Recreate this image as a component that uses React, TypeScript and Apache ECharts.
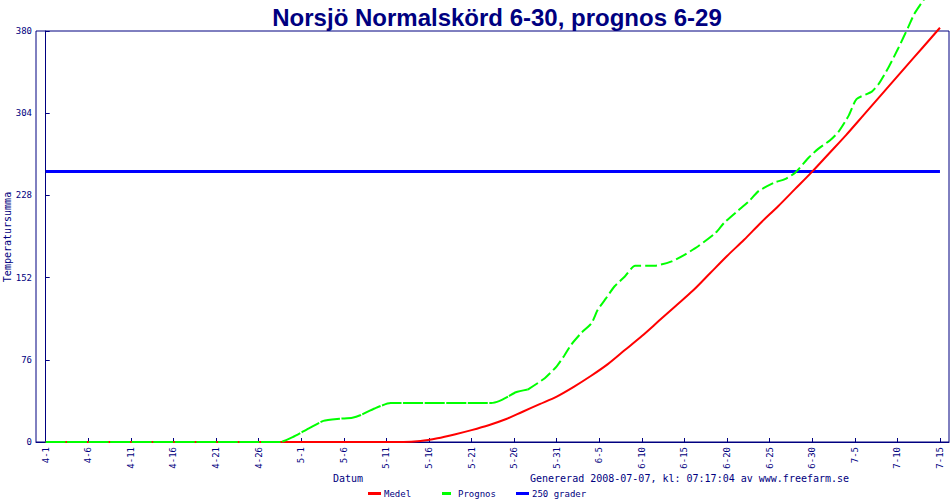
import React, { useEffect, useRef } from "react";
import * as echarts from "echarts";

const NAVY = "#000080";
const MONO = "'DejaVu Sans Mono', monospace";

// x values are day numbers counted from 4-1 (day 0)
const tickDays = [0, 5, 10, 15, 20, 25, 30, 35, 40, 45, 50, 55, 60, 65, 70, 75, 80, 85, 90, 95, 100, 105];
const tickLabels = [
  "4-1", "4-6", "4-11", "4-16", "4-21", "4-26", "5-1", "5-6", "5-11", "5-16", "5-21",
  "5-26", "5-31", "6-5", "6-10", "6-15", "6-20", "6-25", "6-30", "7-5", "7-10", "7-15",
];

const medelDays = [0, 42, 44, 46, 48, 50, 52, 54, 56, 58, 60, 62, 64, 66, 68, 70, 72, 74, 76, 78, 80, 82, 84, 86, 88, 90, 92, 94, 96, 98, 100, 102, 104, 105];
const medelValues = [0, 0, 1, 3.5, 7, 11, 15.5, 21, 28, 35, 42, 51, 61, 72, 85, 98, 112, 126, 140, 156, 172, 187, 203, 218, 234, 250, 267, 284, 302, 320, 338, 356, 374, 383];

const prognosEarlyDays = [0, 27.5, 29, 31, 32.6, 34.5, 36, 37, 38.6, 40.5, 52.3, 53.3, 54.3, 55.2, 56.6];
const prognosEarlyValues = [0, 0, 4.5, 13, 19.5, 21.5, 22.5, 25, 31, 36, 36, 38, 42, 46, 48.5];

const prognosLateDays = [56.6, 58.6, 60, 60.9, 61.7, 62.9, 64.1, 64.8, 65.8, 66.8, 68, 69.2, 71.5, 73.5, 75, 76.6, 78.6, 79.7, 81.3, 82.5, 83.7, 85.6, 86.8, 88, 89.6, 90.7, 92.1, 93.1, 94.3, 95.2, 97, 97.8, 99, 100.1, 101.3, 102, 103.1, 104];
const prognosLateValues = [48.5, 59, 70, 80, 90, 101, 110, 122, 133, 144, 153, 163, 163, 167, 173, 181, 193, 203, 214, 222, 232, 240, 243, 249, 263, 271, 279, 287, 302, 317, 324, 331, 347, 364, 384, 396, 409, 420];

const gradDays = [0, 105];
const gradValues = [250, 250];

const zip = (xs: number[], ys: number[]) => xs.map((x, i) => [x, ys[i]]);

export default function App() {
  const ref = useRef<HTMLDivElement>(null);

  useEffect(() => {
    document.body.style.margin = "0";
    if (!ref.current) return;
    const chart = echarts.init(ref.current, null, { renderer: "svg" });

    const legendBase = {
      orient: "horizontal",
      top: 489,
      itemHeight: 3,
      itemGap: 0,
      icon: "rect",
      selectedMode: false,
      padding: 0,
      textStyle: { color: NAVY, fontFamily: MONO, fontSize: 9, padding: [0, 0, 0, -2] },
    };

    chart.setOption({
      animation: false,
      backgroundColor: "#ffffff",
      title: {
        text: "Norsjö Normalskörd 6-30, prognos 6-29",
        left: 492,
        textAlign: "center",
        top: 0,
        textStyle: {
          color: NAVY,
          fontFamily: "'Liberation Sans', Arial, sans-serif",
          fontWeight: "bold",
          fontSize: 24,
        },
      },
      legend: [
        { ...legendBase, left: 368, itemWidth: 13, data: ["Medel"] },
        { ...legendBase, left: 442, itemWidth: 9, data: ["Prognos"], textStyle: { ...legendBase.textStyle, padding: [0, 0, 0, 2] } },
        { ...legendBase, left: 516, itemWidth: 13, data: ["250 grader"] },
      ],
      grid: {
        left: 36,
        right: 1,
        top: 31,
        bottom: 58,
        show: true,
        borderColor: NAVY,
        borderWidth: 1,
        backgroundColor: "transparent",
      },
      xAxis: {
        type: "value",
        min: -1.14,
        max: 106.06,
        splitLine: { show: false },
        axisLine: { show: true, lineStyle: { color: NAVY, width: 1 } },
        axisTick: { show: true, inside: true, length: 4, customValues: tickDays, lineStyle: { color: NAVY } },
        axisLabel: {
          customValues: tickDays,
          rotate: 90,
          margin: 5,
          color: NAVY,
          fontFamily: MONO,
          fontSize: 9,
          formatter: (v: number) => {
            const i = tickDays.indexOf(Math.round(v));
            return i >= 0 ? tickLabels[i] : "";
          },
        },
      },
      yAxis: {
        type: "value",
        min: 0,
        max: 380,
        interval: 76,
        splitLine: { show: false },
        axisLine: { show: true, lineStyle: { color: NAVY, width: 1 } },
        axisTick: { show: true, inside: true, length: 4, lineStyle: { color: NAVY } },
        axisLabel: { color: NAVY, fontFamily: MONO, fontSize: 9, margin: 4 },
      },
      graphic: [
        {
          type: "text",
          x: 7,
          y: 237,
          rotation: Math.PI / 2,
          style: {
            text: "Temperatursumma",
            fill: NAVY,
            font: `10px ${MONO}`,
            textAlign: "center",
            textVerticalAlign: "middle",
          },
        },
        {
          type: "text",
          x: 333,
          y: 478,
          style: { text: "Datum", fill: NAVY, font: `10px ${MONO}`, textVerticalAlign: "middle" },
        },
        {
          type: "text",
          x: 530,
          y: 478,
          style: {
            text: "Genererad 2008-07-07, kl: 07:17:04 av www.freefarm.se",
            fill: NAVY,
            font: `10px ${MONO}`,
            textVerticalAlign: "middle",
          },
        },
      ],
      series: [
        {
          name: "250 grader",
          type: "line",
          data: zip(gradDays, gradValues),
          showSymbol: false,
          color: "#0000ff",
          lineStyle: { color: "#0000ff", width: 3 },
          z: 1,
        },
        {
          name: "Medel",
          type: "line",
          data: zip(medelDays, medelValues),
          showSymbol: false,
          smooth: 0.3,
          clip: false,
          color: "#ff0000",
          lineStyle: { color: "#ff0000", width: 2 },
          z: 2,
        },
        {
          name: "Prognos",
          type: "line",
          data: zip(prognosEarlyDays, prognosEarlyValues),
          showSymbol: false,
          smooth: 0.2,
          clip: false,
          color: "#00ff00",
          lineStyle: { color: "#00ff00", width: 2, type: [20, 1.5] },
          z: 3,
        },
        {
          name: "Prognos",
          type: "line",
          data: zip(prognosLateDays, prognosLateValues),
          showSymbol: false,
          smooth: 0.2,
          clip: false,
          color: "#00ff00",
          lineStyle: { color: "#00ff00", width: 2, type: [12, 4] },
          z: 3,
        },
      ],
    });

    return () => chart.dispose();
  }, []);

  return <div ref={ref} style={{ width: 950, height: 500 }} />;
}
